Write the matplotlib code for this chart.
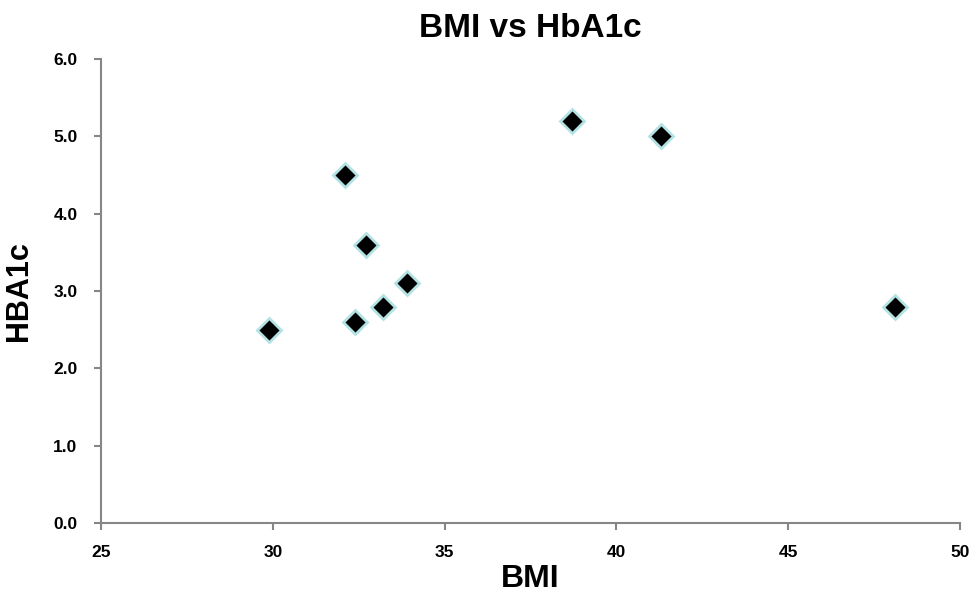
import matplotlib
matplotlib.use('Agg')
from matplotlib import pyplot as plt

plt.rcParams['font.family'] = ['Liberation Sans', 'DejaVu Sans']

bmi = [29.9, 32.1, 32.4, 32.7, 33.2, 33.9, 38.7, 41.3, 48.1]
hba1c = [2.5, 4.5, 2.6, 3.6, 2.8, 3.1, 5.2, 5.0, 2.8]
x_ticks = [25, 30, 35, 40, 45, 50]
y_ticks = [0.0, 1.0, 2.0, 3.0, 4.0, 5.0, 6.0]

fig = plt.figure(figsize=(9.75, 6.03), dpi=100)
ax = fig.add_axes([0.1036, 0.1327, 0.881, 0.7693])

ax.plot(bmi, hba1c, linestyle='none', marker='D', markersize=12,
        markerfacecolor='black', markeredgecolor='#b4e2e4', markeredgewidth=2)

ax.set_xlim(25, 50)
ax.set_ylim(0, 6)
ax.set_xticks(x_ticks)
ax.set_yticks(y_ticks)
ax.set_xticklabels([str(t) for t in x_ticks])
ax.set_yticklabels(['%.1f' % t for t in y_ticks])

for side in ['top', 'right']:
    ax.spines[side].set_visible(False)
for side in ['left', 'bottom']:
    ax.spines[side].set_color('#868686')
    ax.spines[side].set_linewidth(1.5)
ax.tick_params(axis='both', direction='out', length=5, width=1.5, color='#868686',
               labelsize=12.5)
for lab in ax.get_xticklabels() + ax.get_yticklabels():
    lab.set_fontweight('bold')
ax.tick_params(axis='x', pad=11)
ax.tick_params(axis='y', pad=12)

ax.set_title('BMI vs HbA1c', fontsize=24, fontweight='bold', pad=16)
ax.set_xlabel('BMI', fontsize=23, fontweight='bold', labelpad=3)
ax.set_ylabel('HBA1c', fontsize=22, fontweight='bold', labelpad=14)

plt.savefig('out.png', dpi=100)
